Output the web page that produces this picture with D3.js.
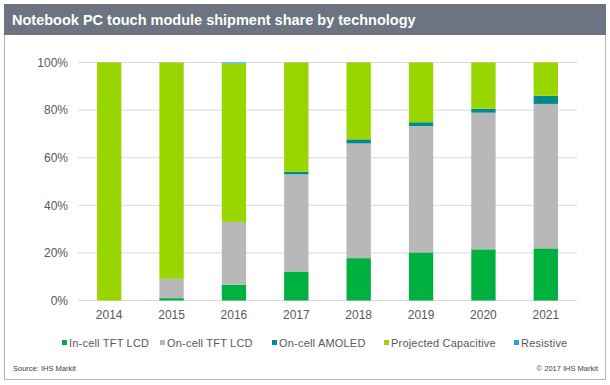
<!DOCTYPE html>
<html>
<head>
    <meta charset="utf-8" />
    <title>Notebook PC touch module shipment share</title>
    <style>
    	body { margin: 0; background: #fff; }
    	svg { display: block; font-family: Arial, "Liberation Sans", sans-serif; }
    </style>
</head>
<body>
<script src="https://d3js.org/d3.v7.min.js"></script>
<script>
    var years = ["2014", "2015", "2016", "2017", "2018", "2019", "2020", "2021"];
    var seriesNames = ["In-cell TFT LCD", "On-cell TFT LCD", "On-cell AMOLED", "Projected Capacitive", "Resistive"];
    var seriesColors = ["#00b140", "#b8b8b8", "#008a8c", "#99d600", "#1fa5da"];

    // shares in %
    var inCell    = [0,   1,    6.6,  12.2, 17.8, 20.2, 21.5, 21.9];
    var onCell    = [0,   8.1,  26.4, 40.8, 48.2, 53.1, 57.4, 60.7];
    var amoled    = [0,   0,    0,    1.1,  1.7,  1.6,  1.7,  3.4];
    var projected = [100, 90.9, 66.6, 45.9, 32.3, 25.1, 19.4, 14.0];
    var resistive = [0,   0,    0.4,  0,    0,    0,    0,    0];

    var yTicks = [0, 20, 40, 60, 80, 100];

    var width = 610, height = 385;

    var rows = years.map(function(y, i) {
        return {year: y, s0: inCell[i], s1: onCell[i], s2: amoled[i], s3: projected[i], s4: resistive[i]};
    });
    var stack = d3.stack().keys(["s0", "s1", "s2", "s3", "s4"])(rows);

    var svg = d3.select("body").append("svg")
        .attr("width", width)
        .attr("height", height);

    // outer frame
    svg.append("rect")
        .attr("x", 4.5).attr("y", 4.5)
        .attr("width", 601).attr("height", 375)
        .attr("fill", "#fff")
        .attr("stroke", "#b5b5b5");

    // title bar
    svg.append("rect")
        .attr("x", 4).attr("y", 4)
        .attr("width", 602).attr("height", 31)
        .attr("fill", "#6b7480");
    svg.append("text")
        .attr("x", 12).attr("y", 25)
        .attr("fill", "#fff")
        .style("font-size", "14.5px")
        .style("font-weight", "bold")
        .text("Notebook PC touch module shipment share by technology");

    var x = d3.scaleBand().domain(years).range([78, 577]).paddingInner(0.61).paddingOuter(0.305);
    var y = d3.scaleLinear().domain([0, 100]).range([300.5, 62.5]);

    // grid
    svg.append("g")
        .selectAll("line")
        .data(yTicks)
        .enter().append("line")
        .attr("x1", 78).attr("x2", 577)
        .attr("y1", d => y(d)).attr("y2", d => y(d))
        .attr("stroke", "#d9d9d9")
        .attr("stroke-width", 1);

    var yAxis = svg.append("g")
        .attr("transform", "translate(78,0)")
        .call(d3.axisLeft(y).tickValues(yTicks).tickFormat(d => d + "%").tickSize(0).tickPadding(10));
    yAxis.select(".domain").remove();
    yAxis.selectAll("text").attr("fill", "#595959").style("font-size", "12px").style("font-family", "Arial, 'Liberation Sans', sans-serif");

    svg.append("g")
        .selectAll("g")
        .data(stack)
        .enter().append("g")
        .attr("fill", (d, i) => seriesColors[i])
        .selectAll("rect")
        .data(d => d)
        .enter().append("rect")
        .attr("x", d => x(d.data.year))
        .attr("width", x.bandwidth())
        .attr("y", d => y(d[1]))
        .attr("height", d => y(d[0]) - y(d[1]));

    var xAxis = svg.append("g")
        .attr("transform", "translate(0,300.5)")
        .call(d3.axisBottom(x).tickSize(0).tickPadding(10));
    xAxis.select(".domain").remove();
    xAxis.selectAll("text").attr("fill", "#595959").style("font-size", "12px").style("font-family", "Arial, 'Liberation Sans', sans-serif");

    // legend
    var legendX = [62, 160, 272, 384, 514];
    var legend = svg.append("g")
        .selectAll("g")
        .data(seriesNames)
        .enter().append("g")
        .attr("transform", (d, i) => "translate(" + legendX[i] + ",347)");
    legend.append("rect")
        .attr("x", 0).attr("y", -7)
        .attr("width", 5).attr("height", 5)
        .attr("fill", (d, i) => seriesColors[i]);
    legend.append("text")
        .attr("x", 7).attr("y", 0)
        .attr("fill", "#595959")
        .style("font-size", "11px")
        .style("letter-spacing", "0.2px")
        .text(d => d);

    svg.append("text")
        .attr("x", 13).attr("y", 371)
        .attr("fill", "#404040")
        .style("font-size", "7.5px")
        .text("Source: IHS Markit");
    svg.append("text")
        .attr("x", 598).attr("y", 371)
        .attr("text-anchor", "end")
        .attr("fill", "#404040")
        .style("font-size", "7.5px")
        .text("© 2017 IHS Markit");
</script>
</body>
</html>
